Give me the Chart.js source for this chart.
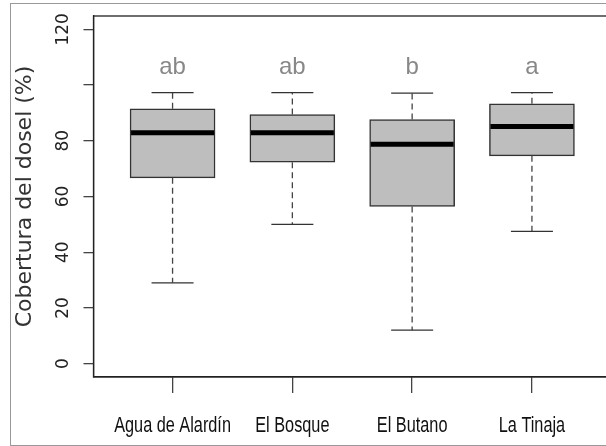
<!DOCTYPE html>
<html>
<head>
<meta charset="utf-8">
<script src="https://cdn.jsdelivr.net/npm/chart.js@4.4.0/dist/chart.umd.min.js"></script>
<style>
  html, body { margin: 0; padding: 0; background: #fff; overflow: hidden; }
  #wrap { position: relative; width: 620px; height: 446px; }
  #marco { position: absolute; left: 10px; top: 3px; width: 640px; height: 441px; border: 1px solid #999; }
</style>
</head>
<body>
<div id="wrap">
  <canvas id="grafico" width="620" height="446"></canvas>
  <div id="marco"></div>
</div>
<script>
// Dados
const categorias = ["Agua de Alardín", "El Bosque", "El Butano", "La Tinaja"];
const bigoteInf = [29, 50, 12, 47.5];
const q1 = [66.7, 72.3, 56.4, 74.6];
const mediana = [82.9, 82.9, 78.8, 85.1];
const q3 = [91.5, 89.4, 87.6, 93.3];
const bigoteSup = [97.3, 97.3, 97.1, 97.3];
const letras = ["ab", "ab", "b", "a"];
const yTicks = [0, 20, 40, 60, 80, 100, 120];
const yTickLabels = ["0", "20", "40", "60", "80", "", "120"];

const alturaLetras = 104;

// Bigodes, medianas, letras e rótulos dos eixos
const boxPlugin = {
  id: "boxPlugin",
  afterDatasetsDraw(chart) {
    const ctx = chart.ctx;
    const xs = chart.scales.x;
    const ys = chart.scales.y;
    const area = chart.chartArea;
    const meta = chart.getDatasetMeta(0);

    ctx.save();
    categorias.forEach((c, i) => {
      const x = xs.getPixelForValue(i + 1);
      const bar = meta.data[i];
      const meia = bar.width / 2;

      // bigodes tracejados
      ctx.strokeStyle = "#444";
      ctx.lineWidth = 1.3;
      ctx.setLineDash([6, 4]);
      ctx.beginPath();
      ctx.moveTo(x, ys.getPixelForValue(q3[i]));
      ctx.lineTo(x, ys.getPixelForValue(bigoteSup[i]));
      ctx.moveTo(x, ys.getPixelForValue(q1[i]));
      ctx.lineTo(x, ys.getPixelForValue(bigoteInf[i]));
      ctx.stroke();

      // extremos
      ctx.setLineDash([]);
      ctx.strokeStyle = "#333";
      ctx.beginPath();
      [bigoteSup[i], bigoteInf[i]].forEach(v => {
        const y = ys.getPixelForValue(v);
        ctx.moveTo(x - 21, y);
        ctx.lineTo(x + 21, y);
      });
      ctx.stroke();

      // mediana
      ctx.strokeStyle = "#000";
      ctx.lineWidth = 5;
      ctx.beginPath();
      ctx.moveTo(x - meia + 1, ys.getPixelForValue(mediana[i]));
      ctx.lineTo(x + meia - 1, ys.getPixelForValue(mediana[i]));
      ctx.stroke();

      // letras
      ctx.fillStyle = "#888";
      ctx.font = "24px 'Liberation Sans', Arial, sans-serif";
      ctx.textAlign = "center";
      ctx.textBaseline = "alphabetic";
      ctx.fillText(letras[i], x, ys.getPixelForValue(alturaLetras));

      // rótulo do eixo x (fonte estreita)
      ctx.save();
      ctx.fillStyle = "#111";
      ctx.font = "22px 'Liberation Sans', Arial, sans-serif";
      ctx.translate(x, 432);
      ctx.scale(0.74, 1);
      ctx.fillText(c, 0, 0);
      ctx.restore();
    });

    // moldura do gráfico
    ctx.strokeStyle = "#222";
    ctx.lineWidth = 1.3;
    ctx.strokeRect(area.left, area.top, area.right - area.left, area.bottom - area.top);

    // rótulos do eixo y (girados)
    ctx.fillStyle = "#222";
    ctx.font = "17px 'DejaVu Sans', sans-serif";
    ctx.textAlign = "center";
    ctx.textBaseline = "middle";
    yTicks.forEach((v, i) => {
      if (!yTickLabels[i]) return;
      ctx.save();
      ctx.translate(63.5, ys.getPixelForValue(v));
      ctx.rotate(-Math.PI / 2);
      ctx.fillText(yTickLabels[i], 0, 0);
      ctx.restore();
    });
    ctx.restore();
  }
};

const ctx = document.getElementById("grafico");
new Chart(ctx, {
  type: "bar",
  data: {
    datasets: [{
      data: categorias.map((c, i) => ({ x: i + 1, y: [q1[i], q3[i]] })),
      backgroundColor: "#bebebe",
      borderColor: "#333",
      borderWidth: 1.5,
      borderSkipped: false,
      barThickness: 85
    }]
  },
  options: {
    responsive: false,
    animation: false,
    layout: { padding: { left: 0, right: 9, top: 16, bottom: 0 } },
    plugins: { legend: { display: false }, tooltip: { enabled: false } },
    scales: {
      x: {
        type: "linear",
        min: 0.34,
        max: 4.66,
        offset: false,
        afterBuildTicks: s => { s.ticks = categorias.map((c, i) => ({ value: i + 1 })); },
        afterFit: s => { s.height = 69; },
        grid: { offset: false, drawOnChartArea: false, drawTicks: true, tickLength: 16, color: "#444", lineWidth: 1.3 },
        border: { display: true, color: "#222", width: 1.3 },
        ticks: { autoSkip: false, maxRotation: 0, callback: () => "" }
      },
      y: {
        min: -4.8,
        max: 124.8,
        afterBuildTicks: s => { s.ticks = yTicks.map(v => ({ value: v })); },
        afterFit: s => { s.width = 93.5; },
        grid: { drawOnChartArea: false, drawTicks: true, tickLength: 10, color: "#444", lineWidth: 1.3 },
        border: { display: true, color: "#222", width: 1.3 },
        ticks: { callback: () => "", padding: 0 },
        title: {
          display: true,
          text: "Cobertura del dosel (%)",
          color: "#333",
          font: { family: "'DejaVu Sans', sans-serif", size: 22 },
          padding: { top: 12, bottom: 0 }
        }
      }
    }
  },
  plugins: [boxPlugin]
});
</script>
</body>
</html>
